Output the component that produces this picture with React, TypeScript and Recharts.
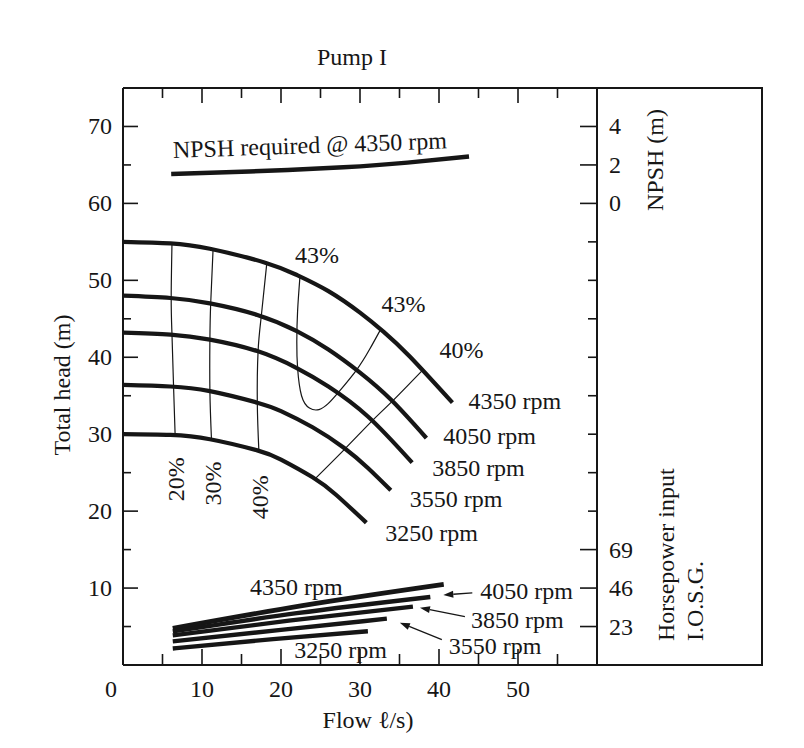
import { LabelList, Line, LineChart, XAxis, YAxis } from "recharts";

type Pt = { q: number; h: number };

// flow (l/s) vs total head (m) for each speed
const head4350: Pt[] = [
  { q: 0, h: 55 }, { q: 6, h: 54.8 }, { q: 11, h: 54.1 }, { q: 18, h: 52.3 },
  { q: 22, h: 50.7 }, { q: 26, h: 48.6 }, { q: 30, h: 45.8 }, { q: 33, h: 43.3 },
  { q: 36.3, h: 40.1 }, { q: 41.7, h: 34.1 },
];
const head4050: Pt[] = [
  { q: 0, h: 48 }, { q: 6, h: 47.7 }, { q: 11, h: 47.0 }, { q: 17, h: 45.5 },
  { q: 22, h: 43.4 }, { q: 26, h: 41.0 }, { q: 30, h: 38.0 }, { q: 34, h: 34.4 },
  { q: 38.4, h: 29.5 },
];
const head3850: Pt[] = [
  { q: 0, h: 43.2 }, { q: 6, h: 42.95 }, { q: 11, h: 42.3 }, { q: 17, h: 40.8 },
  { q: 22, h: 38.6 }, { q: 26, h: 36.2 }, { q: 31, h: 32.3 }, { q: 36.6, h: 26.3 },
];
const head3550: Pt[] = [
  { q: 0, h: 36.4 }, { q: 6, h: 36.2 }, { q: 11, h: 35.6 }, { q: 17, h: 34.1 },
  { q: 20, h: 33.0 }, { q: 24, h: 30.9 }, { q: 28, h: 28.2 }, { q: 31, h: 25.6 },
  { q: 33.9, h: 22.7 },
];
const head3250: Pt[] = [
  { q: 0, h: 30 }, { q: 6, h: 29.9 }, { q: 11, h: 29.35 }, { q: 17, h: 27.9 },
  { q: 20, h: 26.7 }, { q: 24, h: 24.4 }, { q: 27, h: 22.1 }, { q: 30.8, h: 18.5 },
];
const headSeries = [head4350, head4050, head3850, head3550, head3250];
const speeds = ["4350 rpm", "4050 rpm", "3850 rpm", "3550 rpm", "3250 rpm"];

// efficiency contours (q, head)
const eff20: Pt[] = [
  { q: 6.2, h: 54.8 }, { q: 6.1, h: 47.7 }, { q: 6.2, h: 42.95 }, { q: 6.4, h: 36.2 }, { q: 6.6, h: 29.85 },
];
const eff30: Pt[] = [
  { q: 11.4, h: 54.0 }, { q: 11.1, h: 47.0 }, { q: 11, h: 42.3 }, { q: 11, h: 35.6 }, { q: 11.2, h: 29.3 },
];
const eff40a: Pt[] = [
  { q: 18.2, h: 52.2 }, { q: 17.5, h: 45.3 }, { q: 17.1, h: 40.8 }, { q: 17.0, h: 34.1 }, { q: 17.2, h: 27.8 },
];
const eff43: Pt[] = [
  { q: 22.4, h: 50.5 }, { q: 22.1, h: 46 }, { q: 22.0, h: 42 }, { q: 22.1, h: 38.6 },
  { q: 22.6, h: 35 }, { q: 23.6, h: 33.4 }, { q: 24.8, h: 33.2 }, { q: 26, h: 34 },
  { q: 27.4, h: 35.6 }, { q: 29.6, h: 38.4 }, { q: 31.2, h: 41.0 }, { q: 32.6, h: 43.6 },
];
const eff40b: Pt[] = [
  { q: 37.9, h: 38.3 }, { q: 34.1, h: 34.3 }, { q: 31.5, h: 31.7 }, { q: 28.1, h: 28.1 }, { q: 24.3, h: 24.2 },
];
const effLowLabels = ["20%", "30%", "40%"];

// NPSH required @ 4350 rpm (m)
const npsh4350 = [
  { q: 6.1, n: 1.53 }, { q: 16, n: 1.66 }, { q: 27.9, n: 1.88 }, { q: 36, n: 2.12 }, { q: 43.8, n: 2.44 },
];

// horsepower input (I.O.S.G.)
const hp4350 = [{ q: 6.3, p: 21.9 }, { q: 22.7, p: 35.5 }, { q: 40.6, p: 48.2 }];
const hp4050 = [{ q: 6.3, p: 20.1 }, { q: 22, p: 31 }, { q: 38.9, p: 40.7 }];
const hp3850 = [{ q: 6.3, p: 17.7 }, { q: 21, p: 26.5 }, { q: 36.7, p: 34.9 }];
const hp3550 = [{ q: 6.3, p: 14.1 }, { q: 20, p: 21 }, { q: 33.4, p: 27.7 }];
const hp3250 = [{ q: 6.3, p: 9.9 }, { q: 19, p: 15.5 }, { q: 31.0, p: 20.2 }];

// axis ticks
const flowTicks = [0, 5, 10, 15, 20, 25, 30, 35, 40, 45, 50, 55];
const headTicks = [5, 10, 15, 20, 25, 30, 35, 40, 45, 50, 55, 60, 65, 70];
const npshTicks = [0, 2, 4];
const hpTicks = [23, 46, 69];

const Q_MAX = 60;
const H_MAX = 75;
// side scales: 2 m NPSH per 5 m head (0 at 60 m head), 23 hp per 5 m head
const npshOfHead = (h: number) => ((h - 60) * 2) / 5;
const hpOfHead = (h: number) => (h * 23) / 5;

const FONT = '"Liberation Serif", "Times New Roman", serif';
const INK = "#161616";
const FS = 24;

const txt = { fontFamily: FONT, fontSize: FS, fill: INK } as const;

function BottomTick({ x, y, payload }: any) {
  const v = payload.value;
  const major = v % 10 === 0;
  return (
    <g>
      {v > 0 && <line x1={x} y1={y} x2={x} y2={y - (major ? 16 : 11)} stroke={INK} strokeWidth={1.6} />}
      {major && v <= 50 && (
        <text x={v === 0 ? x - 12 : x} y={y + 32} textAnchor="middle" {...txt}>
          {v}
        </text>
      )}
    </g>
  );
}

function TopTick({ x, y, payload }: any) {
  const major = payload.value % 10 === 0;
  return <line x1={x} y1={y} x2={x} y2={y + (major ? 15 : 10)} stroke={INK} strokeWidth={1.6} />;
}

function LeftTick({ x, y, payload }: any) {
  const v = payload.value;
  const major = v % 10 === 0;
  return (
    <g>
      <line x1={x} y1={y} x2={x + (major ? 15 : 8)} y2={y} stroke={INK} strokeWidth={1.6} />
      {major && (
        <text x={x - 11} y={y + 8} textAnchor="end" {...txt}>
          {v}
        </text>
      )}
    </g>
  );
}

function RightTick({ x, y, payload }: any) {
  const h = payload.value;
  let label: string | null = null;
  npshTicks.forEach((n) => {
    if (Math.abs(60 + (n * 5) / 2 - h) < 0.01) label = String(n);
  });
  hpTicks.forEach((p) => {
    if (Math.abs((p * 5) / 23 - h) < 0.01) label = String(p);
  });
  return (
    <g>
      <line x1={x} y1={y} x2={x - (label ? 17 : 9)} y2={y} stroke={INK} strokeWidth={1.6} />
      {label && (
        <text x={x + 12} y={y + 8} textAnchor="start" {...txt}>
          {label}
        </text>
      )}
    </g>
  );
}

function SidePanel({ viewBox }: any) {
  const { x, y, width, height } = viewBox;
  return (
    <g>
      <path
        d={`M${x},${y} H${x + width} V${y + height} H${x}`}
        fill="none"
        stroke={INK}
        strokeWidth={2}
      />
      <text
        x={x + 58}
        y={y + 72}
        textAnchor="middle"
        dominantBaseline="central"
        transform={`rotate(-90 ${x + 58} ${y + 72})`}
        {...txt}
      >
        NPSH (m)
      </text>
      <text
        x={x + 69}
        y={y + height - 24}
        dominantBaseline="central"
        transform={`rotate(-90 ${x + 69} ${y + height - 24})`}
        {...txt}
      >
        Horsepower input
      </text>
      <text
        x={x + 98}
        y={y + height - 24}
        dominantBaseline="central"
        transform={`rotate(-90 ${x + 98} ${y + height - 24})`}
        {...txt}
      >
        I.O.S.G.
      </text>
    </g>
  );
}

function Arrow({ x1, y1, x2, y2 }: { x1: number; y1: number; x2: number; y2: number }) {
  const dx = x2 - x1;
  const dy = y2 - y1;
  const len = Math.hypot(dx, dy) || 1;
  const ux = dx / len;
  const uy = dy / len;
  const bx = x2 - ux * 10;
  const by = y2 - uy * 10;
  return (
    <g>
      <line x1={x1} y1={y1} x2={bx} y2={by} stroke={INK} strokeWidth={1.3} />
      <polygon
        points={`${x2},${y2} ${bx - uy * 3.5},${by + ux * 3.5} ${bx + uy * 3.5},${by - ux * 3.5}`}
        fill={INK}
      />
    </g>
  );
}

// label at a given point index of a series
const at = (idx: number, render: (x: number, y: number) => any) => (p: any) =>
  p.index === idx ? render(Number(p.x), Number(p.y)) : null;

const rpmOffsets = [
  [16, 6],
  [17, 6],
  [20, 13],
  [19, 17],
  [19, 18],
];

const thin = {
  xAxisId: "top",
  yAxisId: "right",
  dataKey: "h",
  type: "natural" as const,
  stroke: INK,
  strokeWidth: 1.2,
  dot: false,
  activeDot: false,
  isAnimationActive: false,
};

export default function App() {
  return (
    <div style={{ position: "absolute", left: 0, top: 0, width: 804, height: 748, background: "#fff" }}>
      <LineChart width={804} height={748} margin={{ top: 87, right: 42, bottom: 23, left: 58 }}>
        <XAxis
          dataKey="q"
          type="number"
          domain={[0, Q_MAX]}
          ticks={flowTicks}
          height={60}
          tickSize={0}
          tickMargin={0}
          tickLine={false}
          tick={<BottomTick />}
          axisLine={{ stroke: INK, strokeWidth: 2 }}
          interval={0}
          label={({ viewBox }: any) => (
            <text x={viewBox.x + 245} y={viewBox.y + 63} textAnchor="middle" {...txt}>
              Flow ℓ/s)
            </text>
          )}
        />
        <XAxis
          xAxisId="top"
          orientation="top"
          dataKey="q"
          type="number"
          domain={[0, Q_MAX]}
          ticks={flowTicks.filter((t) => t > 0)}
          height={1}
          tickSize={0}
          tickMargin={0}
          tickLine={false}
          tick={<TopTick />}
          axisLine={{ stroke: INK, strokeWidth: 2 }}
          interval={0}
          label={({ viewBox }: any) => (
            <text x={viewBox.x + 229} y={viewBox.y - 22} textAnchor="middle" {...txt}>
              Pump I
            </text>
          )}
        />
        <YAxis
          type="number"
          domain={[0, H_MAX]}
          ticks={headTicks}
          width={65}
          tickSize={0}
          tickMargin={0}
          tickLine={false}
          tick={<LeftTick />}
          axisLine={{ stroke: INK, strokeWidth: 2 }}
          interval={0}
          label={({ viewBox }: any) => (
            <text
              x={viewBox.x + 4}
              y={viewBox.y + 297}
              textAnchor="middle"
              dominantBaseline="central"
              transform={`rotate(-90 ${viewBox.x + 4} ${viewBox.y + 297})`}
              {...txt}
            >
              Total head (m)
            </text>
          )}
        />
        <YAxis
          yAxisId="right"
          orientation="right"
          type="number"
          domain={[0, H_MAX]}
          ticks={headTicks}
          width={165}
          tickSize={0}
          tickMargin={0}
          tickLine={false}
          tick={<RightTick />}
          axisLine={{ stroke: INK, strokeWidth: 2 }}
          interval={0}
          label={(p: any) => <SidePanel viewBox={p.viewBox} />}
        />
        <YAxis yAxisId="npsh" hide type="number" domain={[npshOfHead(0), npshOfHead(H_MAX)]} />
        <YAxis yAxisId="hp" hide type="number" domain={[0, hpOfHead(H_MAX)]} />

        {/* efficiency contours (drawn on the top / right axes, same scales) */}
        <Line data={eff20} {...thin}>
          <LabelList
            content={at(eff20.length - 1, (x, y) => (
              <text x={x + 1} y={y + 44} textAnchor="middle" dominantBaseline="central" transform={`rotate(-90 ${x + 1} ${y + 44})`} {...txt}>
                {effLowLabels[0]}
              </text>
            ))}
          />
        </Line>
        <Line data={eff30} {...thin}>
          <LabelList
            content={at(eff30.length - 1, (x, y) => (
              <text x={x + 2} y={y + 44} textAnchor="middle" dominantBaseline="central" transform={`rotate(-90 ${x + 2} ${y + 44})`} {...txt}>
                {effLowLabels[1]}
              </text>
            ))}
          />
        </Line>
        <Line data={eff40a} {...thin}>
          <LabelList
            content={at(eff40a.length - 1, (x, y) => (
              <text x={x + 1} y={y + 46} textAnchor="middle" dominantBaseline="central" transform={`rotate(-90 ${x + 1} ${y + 46})`} {...txt}>
                {effLowLabels[2]}
              </text>
            ))}
          />
        </Line>
        <Line data={eff43} {...thin}>
          <LabelList
            content={(p: any) => {
              const x = Number(p.x);
              const y = Number(p.y);
              if (p.index === 0)
                return (
                  <text x={x + 17} y={y - 13} textAnchor="middle" {...txt}>
                    43%
                  </text>
                );
              if (p.index === eff43.length - 1)
                return (
                  <text x={x + 23} y={y - 18} textAnchor="middle" {...txt}>
                    43%
                  </text>
                );
              return null;
            }}
          />
        </Line>
        <Line data={eff40b} {...thin}>
          <LabelList
            content={at(0, (x, y) => (
              <text x={x + 39} y={y - 12} textAnchor="middle" {...txt}>
                40%
              </text>
            ))}
          />
        </Line>

        {/* head curves */}
        {headSeries.map((s, i) => (
          <Line
            key={speeds[i]}
            data={s}
            dataKey="h"
            type="natural"
            stroke={INK}
            strokeWidth={4.2}
            dot={false}
            activeDot={false}
            isAnimationActive={false}
          >
            <LabelList
              content={at(s.length - 1, (x, y) => (
                <text x={x + rpmOffsets[i][0]} y={y + rpmOffsets[i][1]} {...txt}>
                  {speeds[i]}
                </text>
              ))}
            />
          </Line>
        ))}

        {/* NPSH required */}
        <Line yAxisId="npsh" data={npsh4350} dataKey="n" type="natural" stroke={INK} strokeWidth={4.5} dot={false} activeDot={false} isAnimationActive={false}>
          <LabelList
            content={at(0, (x, y) => (
              <text x={x + 2} y={y - 16} transform={`rotate(-2 ${x + 2} ${y - 16})`} {...txt}>
                NPSH required @ {speeds[0]}
              </text>
            ))}
          />
        </Line>

        {/* horsepower input */}
        <Line yAxisId="hp" data={hp4350} dataKey="p" type="monotone" stroke={INK} strokeWidth={4.8} dot={false} activeDot={false} isAnimationActive={false}>
          <LabelList
            content={at(1, (x, y) => (
              <text x={x - 6} y={y - 11} textAnchor="middle" {...txt}>
                {speeds[0]}
              </text>
            ))}
          />
        </Line>
        <Line yAxisId="hp" data={hp4050} dataKey="p" type="monotone" stroke={INK} strokeWidth={4.4} dot={false} activeDot={false} isAnimationActive={false}>
          <LabelList
            content={at(hp4050.length - 1, (x, y) => (
              <g>
                <Arrow x1={x + 42} y1={y - 4} x2={x + 13} y2={y - 2} />
                <text x={x + 50} y={y + 2} {...txt}>
                  {speeds[1]}
                </text>
              </g>
            ))}
          />
        </Line>
        <Line yAxisId="hp" data={hp3850} dataKey="p" type="monotone" stroke={INK} strokeWidth={4.4} dot={false} activeDot={false} isAnimationActive={false}>
          <LabelList
            content={at(hp3850.length - 1, (x, y) => (
              <g>
                <Arrow x1={x + 52} y1={y + 10} x2={x + 7} y2={y + 1} />
                <text x={x + 58} y={y + 21} {...txt}>
                  {speeds[2]}
                </text>
              </g>
            ))}
          />
        </Line>
        <Line yAxisId="hp" data={hp3550} dataKey="p" type="monotone" stroke={INK} strokeWidth={4.4} dot={false} activeDot={false} isAnimationActive={false}>
          <LabelList
            content={at(hp3550.length - 1, (x, y) => (
              <g>
                <Arrow x1={x + 55} y1={y + 21} x2={x + 13} y2={y + 4} />
                <text x={x + 62} y={y + 35} {...txt}>
                  {speeds[3]}
                </text>
              </g>
            ))}
          />
        </Line>
        <Line yAxisId="hp" data={hp3250} dataKey="p" type="monotone" stroke={INK} strokeWidth={4.4} dot={false} activeDot={false} isAnimationActive={false}>
          <LabelList
            content={at(hp3250.length - 1, (x, y) => (
              <text x={x + 19} y={y + 27} textAnchor="end" {...txt}>
                {speeds[4]}
              </text>
            ))}
          />
        </Line>
      </LineChart>
    </div>
  );
}
